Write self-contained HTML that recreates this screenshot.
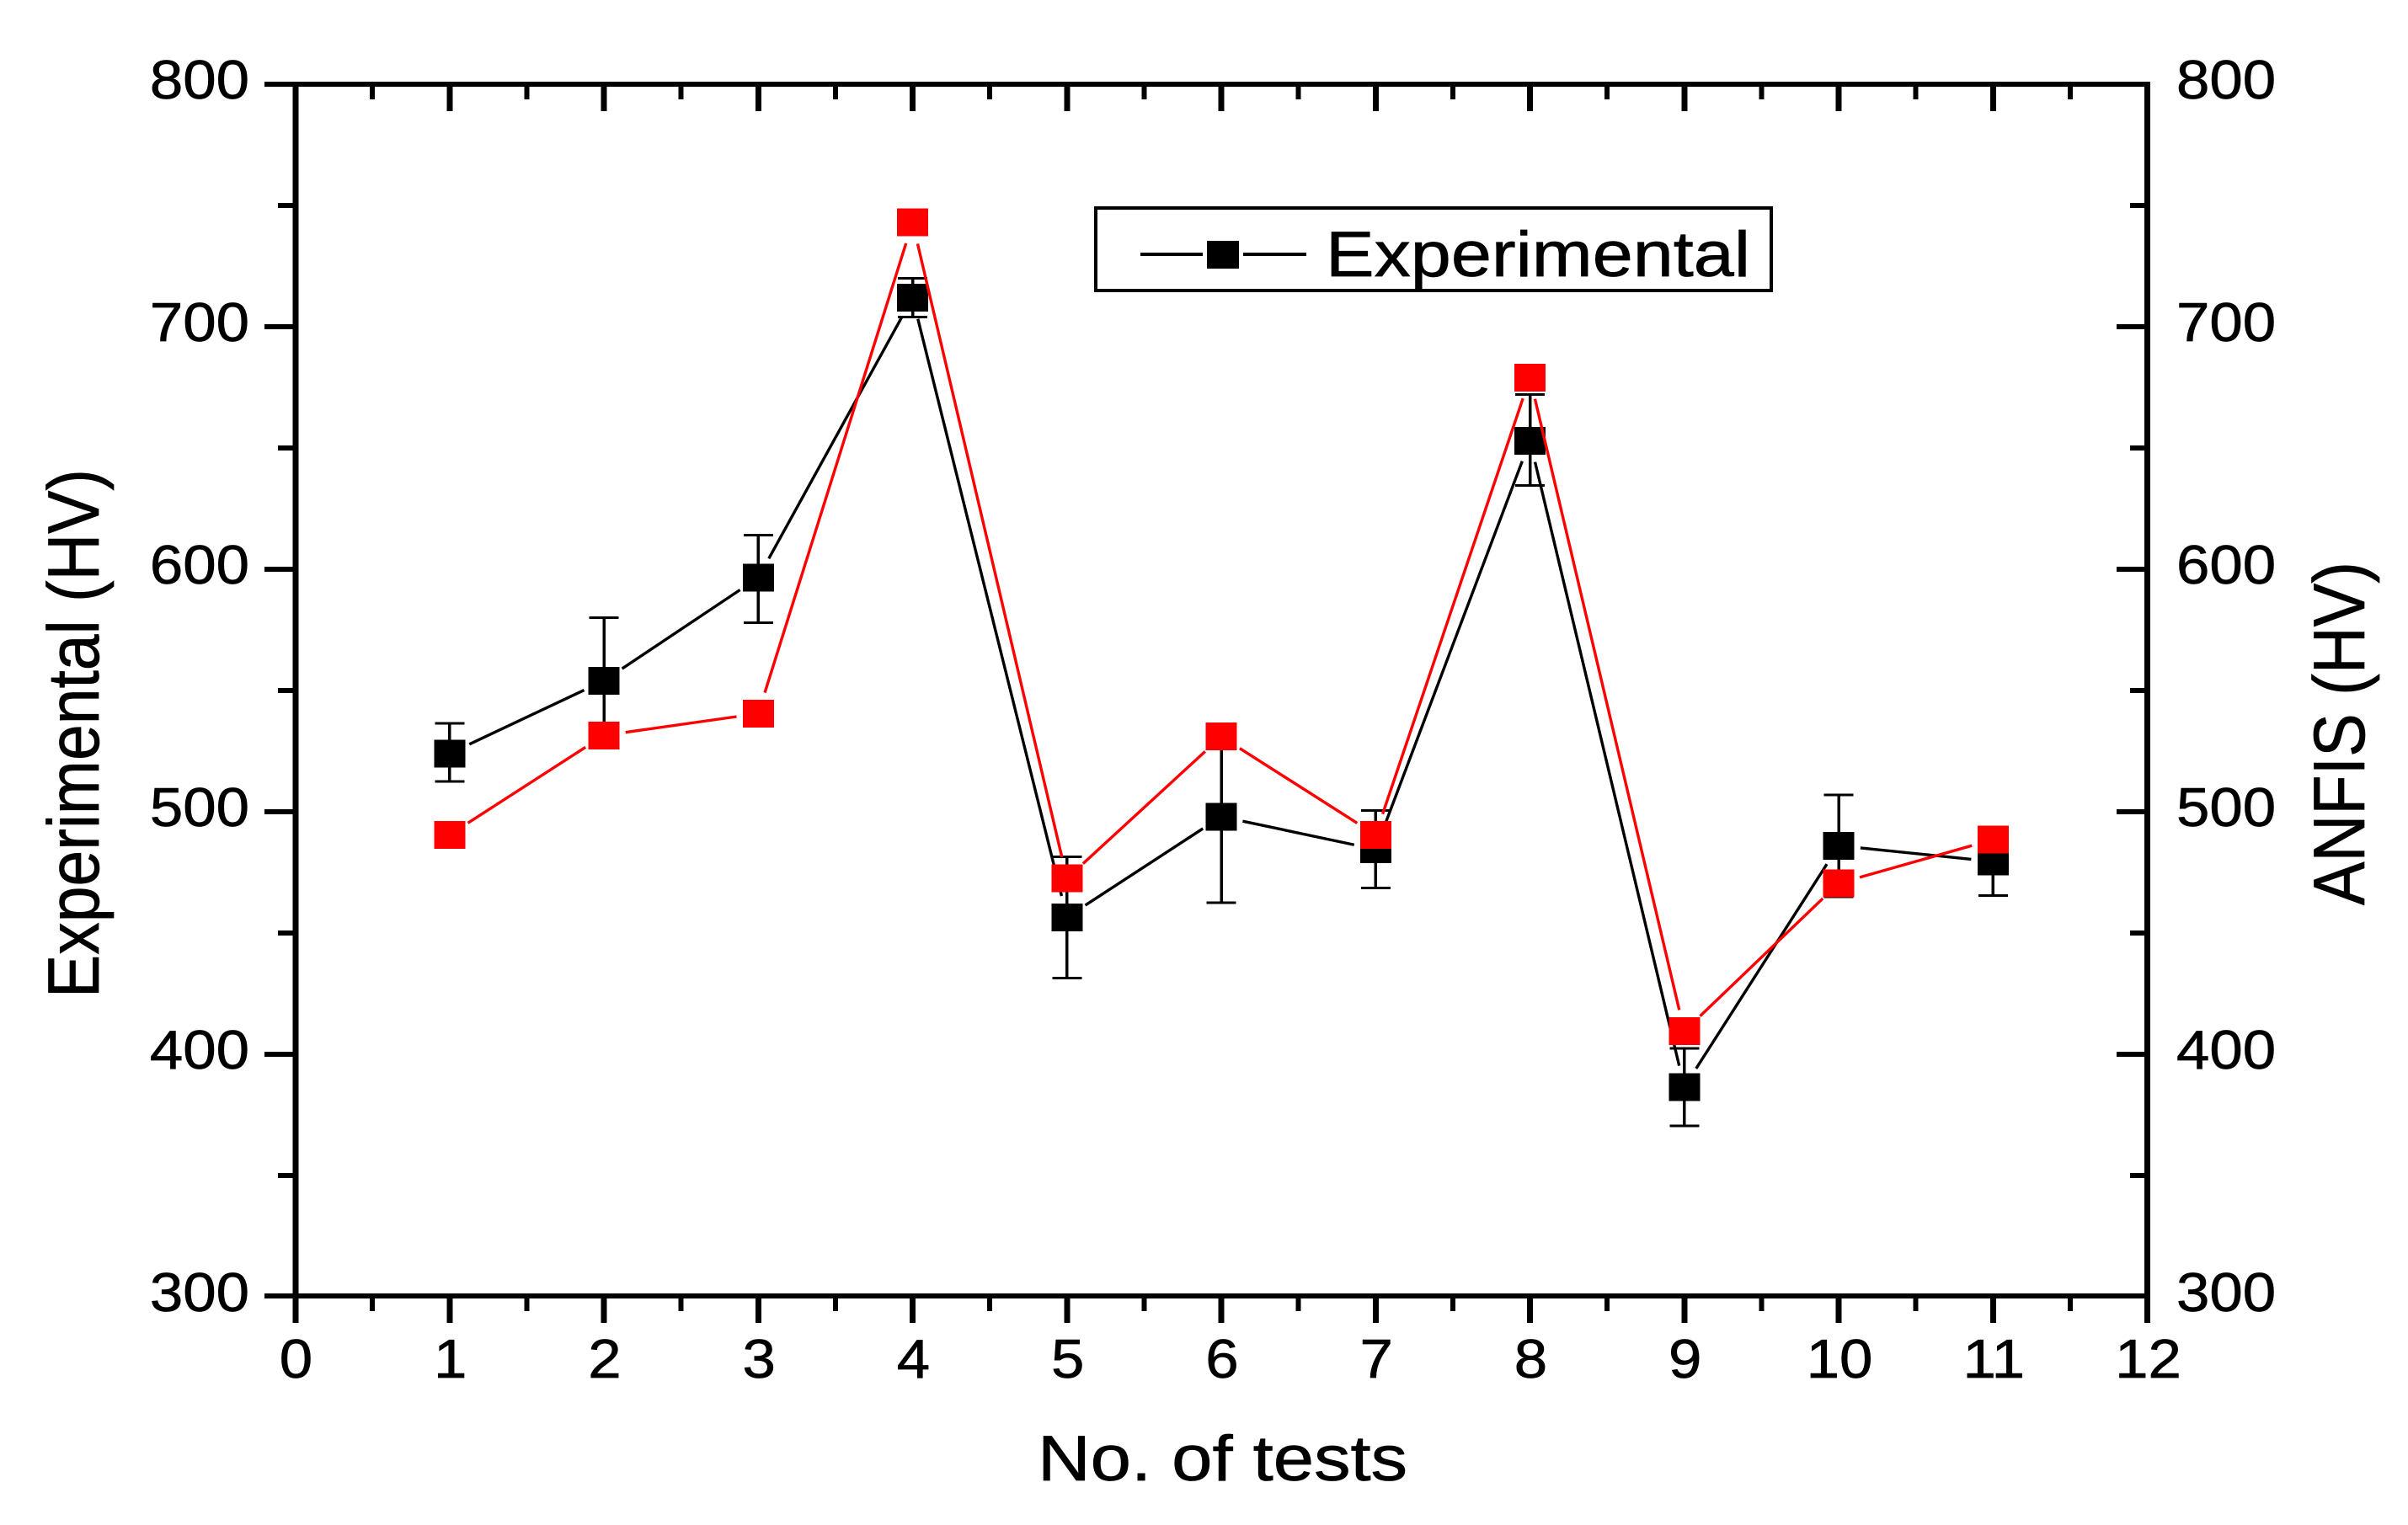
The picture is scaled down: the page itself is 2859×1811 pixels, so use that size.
<!DOCTYPE html>
<html lang="en">
<head>
<meta charset="utf-8">
<title>Experimental vs ANFIS hardness</title>
<style>
html,body{margin:0;padding:0;background:#fff;}
svg{display:block;}
text{font-family:"Liberation Sans",Arial,sans-serif;fill:#000;stroke:#000;stroke-width:0.7px;}
</style>
</head>
<body>
<svg id="chart" xmlns="http://www.w3.org/2000/svg" width="2859" height="1811" viewBox="0 0 2859 1811">
  <rect x="0" y="0" width="2859" height="1811" fill="#fff"/>
  <g id="axes"></g>
  <g id="series"></g>
  <text x="1232" y="1758" font-size="76" textLength="439" lengthAdjust="spacingAndGlyphs">No. of tests</text>
  <text transform="translate(117,1185) rotate(-90)" font-size="86" textLength="628" lengthAdjust="spacingAndGlyphs">Experimental (HV)</text>
  <text transform="translate(2807,1075) rotate(-90)" font-size="86" textLength="408" lengthAdjust="spacingAndGlyphs">ANFIS (HV)</text>
  <g>
    <rect x="1301" y="247" width="802" height="98" fill="#fff" stroke="#000" stroke-width="4"/>
    <rect x="1354" y="300" width="74" height="4" fill="#000"/>
    <rect x="1433" y="286" width="38" height="33" fill="#000"/>
    <rect x="1476" y="300" width="75" height="4" fill="#000"/>
    <text x="1574" y="328" font-size="76" textLength="504" lengthAdjust="spacingAndGlyphs">Experimental</text>
  </g>
</svg>
<script>
const testNumbers = [1, 2, 3, 4, 5, 6, 7, 8, 9, 10, 11];
const experimental = [524, 554, 596.5, 712, 456.5, 498, 484.5, 653, 386.5, 486, 479.5];
const anfis = [490.5, 531.5, 540.5, 743, 472.5, 531, 490.5, 679, 409.5, 470.5, 488.5];
const errorHigh = [536.5, 580, 614, 720, 481.5, 534, 500.5, 672, 402.5, 507, 493.5];
const errorLow = [512.5, 528, 578, 704, 431.5, 462.5, 468.5, 634.5, 370.5, 465, 465.5];
const xTickLabels = [0, 1, 2, 3, 4, 5, 6, 7, 8, 9, 10, 11, 12];
const yTickLabels = [300, 400, 500, 600, 700, 800];

const SVG_NS = 'http://www.w3.org/2000/svg';
const axesLayer = document.getElementById('axes');
const seriesLayer = document.getElementById('series');

function xScale(v) { return 350.5 + v * 183.25; }
function yScale(v) { return 100 + (800 - v) * 2.88; }

function makeRect(parent, x, y, w, h, color) {
  const el = document.createElementNS(SVG_NS, 'rect');
  el.setAttribute('x', x);
  el.setAttribute('y', y);
  el.setAttribute('width', w);
  el.setAttribute('height', h);
  el.setAttribute('fill', color);
  el.setAttribute('shape-rendering', 'crispEdges');
  parent.appendChild(el);
  return el;
}

function makeLabel(parent, x, y, str, anchor) {
  const el = document.createElementNS(SVG_NS, 'text');
  el.setAttribute('transform', 'translate(' + x + ',' + y + ') scale(1.09,1)');
  el.setAttribute('font-size', '65');
  el.setAttribute('text-anchor', anchor);
  el.textContent = String(str);
  parent.appendChild(el);
  return el;
}

function makeSegment(parent, a, b, color, width, gap) {
  const dx = b.x - a.x;
  const dy = b.y - a.y;
  const len = Math.sqrt(dx * dx + dy * dy);
  const ux = dx / len;
  const uy = dy / len;
  const el = document.createElementNS(SVG_NS, 'line');
  el.setAttribute('x1', a.x + ux * gap);
  el.setAttribute('y1', a.y + uy * gap);
  el.setAttribute('x2', b.x - ux * gap);
  el.setAttribute('y2', b.y - uy * gap);
  el.setAttribute('stroke', color);
  el.setAttribute('stroke-width', width);
  parent.appendChild(el);
  return el;
}

/* axis frame */
const frameTop = makeRect(axesLayer, 314, 97, 2239, 6, '#000');


const frameBottom = makeRect(axesLayer, 314, 1536, 2239, 6, '#000');


const frameLeft = makeRect(axesLayer, 347.5, 97, 7, 1474, '#000');


const frameRight = makeRect(axesLayer, 2546, 97, 7, 1474, '#000');



/* x ticks and labels */
xTickLabels.forEach(function (v, i) {
  const px = xScale(v);
  if (i > 0 && i < xTickLabels.length - 1) {
    const top = makeRect(axesLayer, px - 3.5, 100, 7, 32, '#000');
    
    
    const bottom = makeRect(axesLayer, px - 3.5, 1539, 7, 32, '#000');
    
    
  }
  const label = makeLabel(axesLayer, px + 1, 1636, v, 'middle');
  
  
  if (i < xTickLabels.length - 1) {
    const mid = xScale(v + 0.5);
    const topMinor = makeRect(axesLayer, mid - 3, 100, 6, 18, '#000');
    
    
    const bottomMinor = makeRect(axesLayer, mid - 3, 1539, 6, 18, '#000');
    
    
  }
});

/* y ticks and labels */
yTickLabels.forEach(function (v, i) {
  const py = yScale(v);
  if (i > 0 && i < yTickLabels.length - 1) {
    const left = makeRect(axesLayer, 314, py - 3, 37, 6, '#000');
    
    
    const right = makeRect(axesLayer, 2513, py - 3, 36, 6, '#000');
    
    
  }
  const leftLabel = makeLabel(axesLayer, 296, py + 17, v, 'end');
  
  
  const rightLabel = makeLabel(axesLayer, 2584, py + 17, v, 'start');
  
  
  if (i < yTickLabels.length - 1) {
    const midY = yScale(v + 50);
    const leftMinor = makeRect(axesLayer, 330, midY - 3, 21, 6, '#000');
    
    
    const rightMinor = makeRect(axesLayer, 2529, midY - 3, 20, 6, '#000');
    
    
  }
});

const MARKER_W = 37;
const MARKER_H = 33;
const LINE_GAP = 26;

/* experimental series: error bars, line, markers */
testNumbers.forEach(function (t, i) {
  const px = xScale(t);
  const hi = yScale(errorHigh[i]);
  const lo = yScale(errorLow[i]);
  const stem = makeRect(seriesLayer, px - 1.75, hi, 3.5, lo - hi, '#000');
  
  
  const capHi = makeRect(seriesLayer, px - 17.5, hi - 1.5, 35, 3, '#000');
  
  
  const capLo = makeRect(seriesLayer, px - 17.5, lo - 1.5, 35, 3, '#000');
  
  
});
testNumbers.forEach(function (t, i) {
  if (i === testNumbers.length - 1) return;
  const seg = makeSegment(seriesLayer,
    { x: xScale(t), y: yScale(experimental[i]) },
    { x: xScale(testNumbers[i + 1]), y: yScale(experimental[i + 1]) },
    '#000', 3.4, LINE_GAP);
  
  
});
testNumbers.forEach(function (t, i) {
  const m = makeRect(seriesLayer, xScale(t) - MARKER_W / 2, yScale(experimental[i]) - MARKER_H / 2, MARKER_W, MARKER_H, '#000');
  
  
});

/* ANFIS series: line, markers */
testNumbers.forEach(function (t, i) {
  if (i === testNumbers.length - 1) return;
  const seg = makeSegment(seriesLayer,
    { x: xScale(t), y: yScale(anfis[i]) },
    { x: xScale(testNumbers[i + 1]), y: yScale(anfis[i + 1]) },
    '#f00', 3.4, LINE_GAP);
  
  
});
testNumbers.forEach(function (t, i) {
  const m = makeRect(seriesLayer, xScale(t) - MARKER_W / 2, yScale(anfis[i]) - MARKER_H / 2, MARKER_W, MARKER_H, '#f00');
  
  
});
</script>
</body>
</html>
